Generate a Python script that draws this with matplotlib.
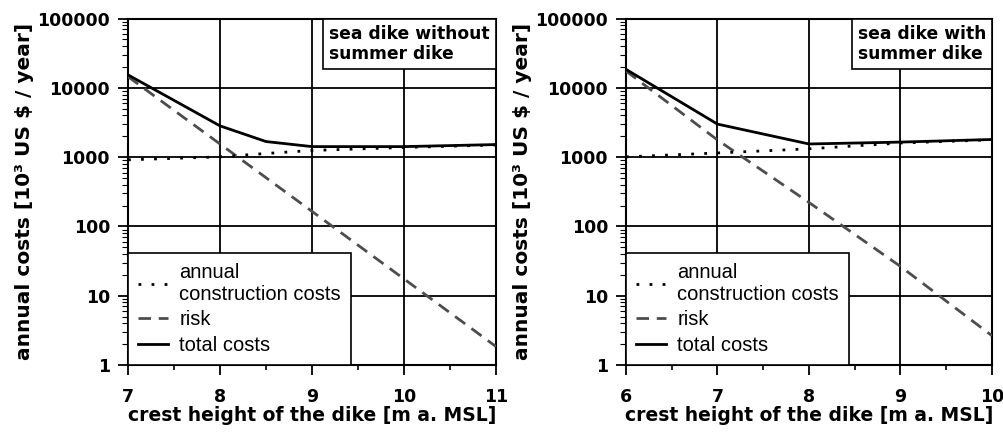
import numpy as np
import matplotlib.pyplot as plt
from matplotlib.offsetbox import AnchoredText
from matplotlib.ticker import LogLocator, MultipleLocator, FuncFormatter

plt.rcParams['font.family'] = ['DejaVu Sans']

# left panel: sea dike without summer dike
h_left = [7, 8, 8.5, 9, 10, 11]
constr_left = [915, 1010, 1130, 1250, 1380, 1500]
risk_left = [14500, 1550, 500, 165, 17.5, 1.85]
total_left = [15400, 2830, 1680, 1420, 1420, 1520]

# right panel: sea dike with summer dike
h_right = [6, 7, 8, 9, 10]
constr_right = [1010, 1150, 1320, 1600, 1780]
risk_right = [17500, 1770, 222, 26.5, 2.65]
total_right = [18500, 3000, 1550, 1650, 1800]

titles = ['sea dike without\nsummer dike', 'sea dike with\nsummer dike']
ylabel = 'annual costs [10³ US $ / year]'
xlabel = 'crest height of the dike [m a. MSL]'

fig = plt.figure(figsize=(10.04, 4.32), dpi=100)
ax1 = fig.add_axes([0.1275, 0.155, 0.3665, 0.802])
ax2 = fig.add_axes([0.6235, 0.155, 0.3645, 0.802])

panels = [
    (ax1, h_left, constr_left, risk_left, total_left, (7, 11), titles[0]),
    (ax2, h_right, constr_right, risk_right, total_right, (6, 10), titles[1]),
]

for ax, h, c, r, t, xl, title in panels:
    ax.set_yscale('log')
    # risk is a straight line in log space, drawn between integer heights
    hr = [x for x in h if float(x).is_integer()]
    rr = [v for x, v in zip(h, r) if float(x).is_integer()]
    l1, = ax.plot(h, c, color='black', lw=2, linestyle=(0, (1, 3.7)),
                  label='annual\nconstruction costs', zorder=4)
    l2, = ax.plot(hr, rr, color='#4d4d4d', lw=2, linestyle=(0, (4.5, 2.8)),
                  label='risk', zorder=3)
    l3, = ax.plot(h, t, color='black', lw=2, label='total costs', zorder=5)
    ax.set_xlim(*xl)
    ax.set_ylim(1, 100000)
    ax.xaxis.set_major_locator(MultipleLocator(1))
    ax.xaxis.set_minor_locator(MultipleLocator(0.5))
    ax.yaxis.set_major_locator(LogLocator(base=10, numticks=10))
    ax.yaxis.set_minor_locator(LogLocator(base=10, subs=np.arange(2, 10), numticks=10))
    ax.yaxis.set_major_formatter(FuncFormatter(lambda v, p: '%d' % round(v)))
    ax.grid(True, which='major', color='black', lw=1.3)
    ax.tick_params(axis='both', which='major', direction='out', length=7, width=1.3)
    ax.tick_params(axis='x', which='major', labelsize=12.5, pad=9.5)
    ax.tick_params(axis='y', which='major', labelsize=12.5, pad=6)
    ax.tick_params(axis='y', which='minor', direction='out', length=4.3, width=0.8)
    ax.tick_params(axis='x', which='minor', direction='out', length=3.6, width=1.2)
    for lab in ax.get_xticklabels() + ax.get_yticklabels():
        lab.set_fontweight('bold')
    for s in ax.spines.values():
        s.set_linewidth(1.5)
    ax.set_xlabel(xlabel, fontsize=13.5, fontweight='bold', labelpad=0)
    ax.set_ylabel(ylabel, fontsize=14.5, fontweight='bold')
    ax.yaxis.set_label_coords(-0.256, 0.5)

    leg = ax.legend(handles=[l1, l2, l3], loc='lower left', bbox_to_anchor=(0, 0),
                    borderaxespad=0, fancybox=False, framealpha=1, edgecolor='black',
                    prop=dict(family='Liberation Sans', size=14.5),
                    handlelength=1.5, handletextpad=0.55,
                    labelspacing=0.33, borderpad=0.5)
    leg.get_frame().set_linewidth(1.2)
    leg.set_zorder(10)

    at = AnchoredText(title, loc='upper right', borderpad=0, pad=0.35,
                      prop=dict(fontsize=12.3, fontweight='bold', linespacing=1.2))
    at.patch.set_boxstyle('square,pad=0')
    at.patch.set_linewidth(1.2)
    at.set_zorder(10)
    ax.add_artist(at)

fig.savefig('out.png', dpi=100)
